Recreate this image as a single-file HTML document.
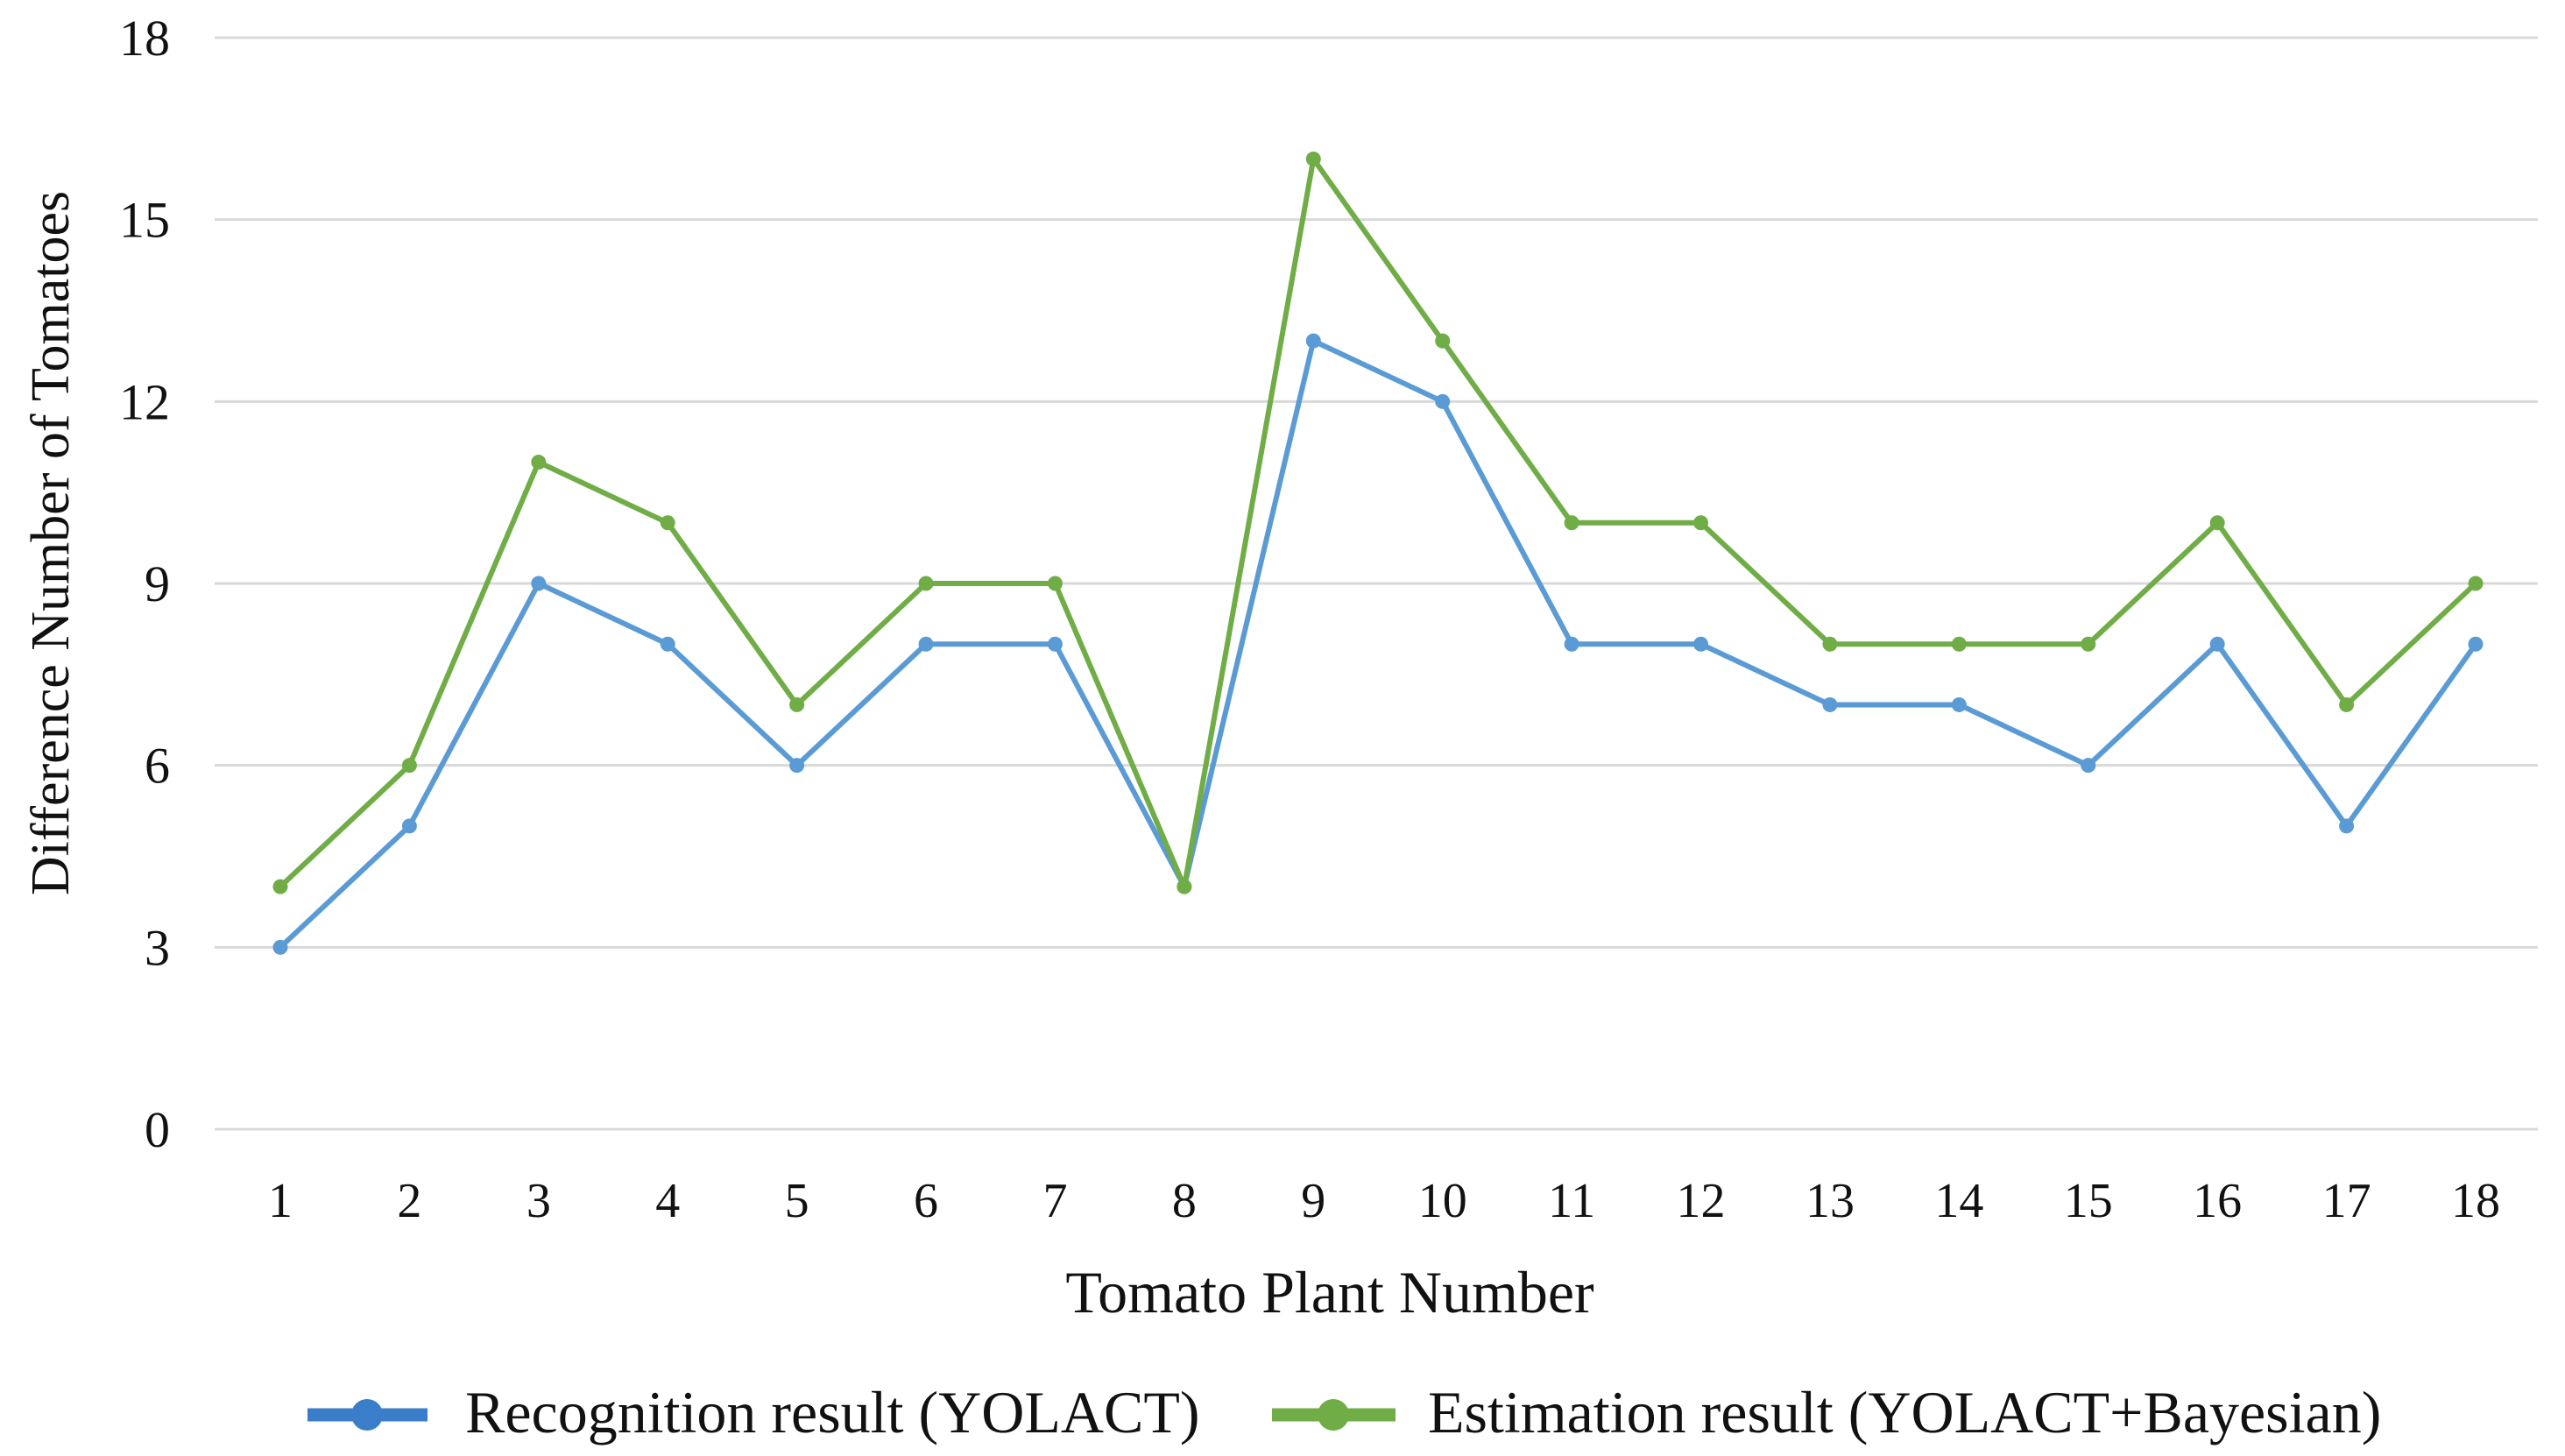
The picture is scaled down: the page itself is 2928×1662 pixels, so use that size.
<!DOCTYPE html>
<html><head><meta charset="utf-8"><style>
html,body{margin:0;padding:0;background:#fff;}
svg{display:block;font-family:"Liberation Serif",serif;}
</style></head><body>
<svg id="chart" width="2928" height="1662" viewBox="0 0 2928 1662" xmlns="http://www.w3.org/2000/svg">
<g id="grid"></g>
<g id="yticks"></g>
<g id="xticks"></g>
<g id="series"></g>
<text x="1518" y="1498" font-size="68" text-anchor="middle" fill="#111">Tomato Plant Number</text>
<text transform="translate(78,620) rotate(-90)" font-size="62" text-anchor="middle" fill="#111">Difference Number of Tomatoes</text>
<g>
  <g>
    <line x1="351" y1="1615" x2="488" y2="1615" stroke="#3a7dc9" stroke-width="15"/>
    <circle cx="419" cy="1615" r="18" fill="#3a7dc9"/>
    <text x="531" y="1635" font-size="68" fill="#111">Recognition result (YOLACT)</text>
  </g>
  <g>
    <line x1="1452" y1="1615" x2="1593" y2="1615" stroke="#70ad47" stroke-width="15"/>
    <circle cx="1522" cy="1615" r="18" fill="#70ad47"/>
    <text x="1630" y="1635" font-size="68" fill="#111">Estimation result (YOLACT+Bayesian)</text>
  </g>
</g>
</svg>
<script>
const categories = ["1","2","3","4","5","6","7","8","9","10","11","12","13","14","15","16","17","18"];
const yolactValues = [3,5,9,8,6,8,8,4,13,12,8,8,7,7,6,8,5,8];
const bayesValues = [4,6,11,10,7,9,9,4,16,13,10,10,8,8,8,10,7,9];
const yTickLabels = [0,3,6,9,12,15,18];

const NS = "http://www.w3.org/2000/svg";
const plotLeft = 245, plotRight = 2897, y0 = 1289, y18 = 43;
function xScale(i){ return 320 + i * (2826 - 320) / (categories.length - 1); }
function yScale(v){ return y0 - v * (y0 - y18) / 18; }
function mk(tag, attrs, parent){
  const e = document.createElementNS(NS, tag);
  for (const k in attrs) e.setAttribute(k, attrs[k]);
  parent.appendChild(e); return e;
}
const grid = document.getElementById('grid');
const yt = document.getElementById('yticks');
yTickLabels.forEach(v => {
  const l = mk('line', {x1: plotLeft, x2: plotRight, y1: yScale(v), y2: yScale(v), stroke: '#d9d9d9', 'stroke-width': 3}, grid);
  
  
  const t = mk('text', {x: 194, y: yScale(v) + 20, 'font-size': 58, 'text-anchor': 'end', fill: '#111'}, yt);
  t.textContent = v;
  
  
});
const xt = document.getElementById('xticks');
categories.forEach((c, i) => {
  const t = mk('text', {x: xScale(i), y: 1389, 'font-size': 56, 'text-anchor': 'middle', fill: '#111'}, xt);
  t.textContent = c;
  
  
});
const sg = document.getElementById('series');
[[yolactValues, '#5b9bd5', 'yolact'], [bayesValues, '#70ad47', 'bayesian']].forEach(([vals, col, name]) => {
  const g = mk('g', {}, sg);
  
  
  const pts = vals.map((v, i) => xScale(i) + ',' + yScale(v)).join(' ');
  const pl = mk('polyline', {points: pts, fill: 'none', stroke: col, 'stroke-width': 6, 'stroke-linejoin': 'round'}, g);
  
  
  vals.forEach((v, i) => {
    const c = mk('circle', {cx: xScale(i), cy: yScale(v), r: 8.5, fill: col}, g);
    
    
  });
});
</script>
</body></html>
